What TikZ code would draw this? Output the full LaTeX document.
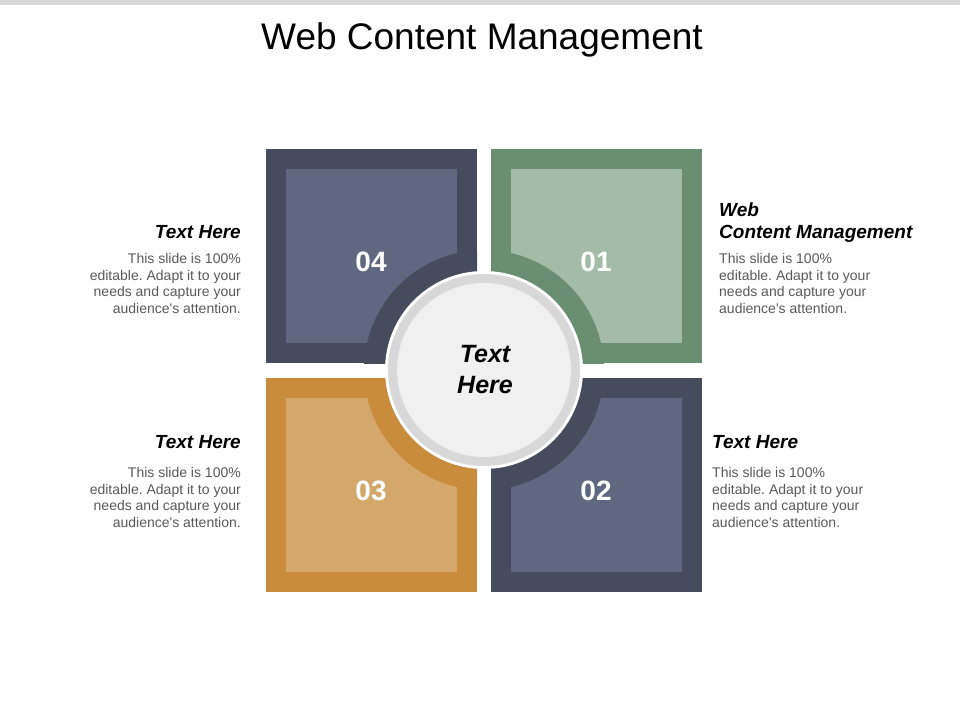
\documentclass[tikz,border=0pt]{standalone}
\usepackage{fontspec}
\setmainfont{Liberation Sans}
\frenchspacing
\usetikzlibrary{positioning}
\definecolor{slateout}{HTML}{464C5C}
\definecolor{slatein}{HTML}{5F6880}
\definecolor{greenout}{HTML}{6A8E72}
\definecolor{greenin}{HTML}{A4BBA8}
\definecolor{orangeout}{HTML}{C98B3C}
\definecolor{orangein}{HTML}{D4A86A}
\definecolor{ringgray}{HTML}{D8D8D8}
\definecolor{centerfill}{HTML}{F0F0F0}
\definecolor{bodygray}{HTML}{595959}
\tikzset{numtext/.style={inner sep=0pt, text=white, font=\fontsize{28}{28}\selectfont\bfseries}}
\tikzset{headtext/.style={inner sep=0pt, font=\fontsize{19}{22}\selectfont\bfseries\itshape}}
\tikzset{bodytext/.style={inner sep=0pt, text=bodygray, font=\fontsize{14}{16.7}\selectfont}}

\begin{document}
\begin{tikzpicture}[x=1pt, y=-1pt]
    \useasboundingbox (0,0) rectangle (960,720);
    \fill[ringgray] (0,0) rectangle (960,5);

    \node[anchor=base, inner sep=0pt, font=\fontsize{37}{37}\selectfont] (title) at (482,49) {Web Content Management};

    \coordinate (ctr) at (484,370);

    % quadrants
    \begin{scope}
        \clip (266,149) rectangle (477,363);
        \fill[slateout] (266,149) rectangle (477,363);
        \fill[slatein] (286,169) rectangle (457,343);
        \fill[slateout] (ctr) circle (120pt);
    \end{scope}
    \begin{scope}
        \clip (491,149) rectangle (702,363);
        \fill[greenout] (491,149) rectangle (702,363);
        \fill[greenin] (511,169) rectangle (682,343);
        \fill[greenout] (ctr) circle (120pt);
    \end{scope}
    \begin{scope}
        \clip (266,378) rectangle (477,592);
        \fill[orangeout] (266,378) rectangle (477,592);
        \fill[orangein] (286,398) rectangle (457,572);
        \fill[orangeout] (ctr) circle (120pt);
    \end{scope}
    \begin{scope}
        \clip (491,378) rectangle (702,592);
        \fill[slateout] (491,378) rectangle (702,592);
        \fill[slatein] (511,398) rectangle (682,572);
        \fill[slateout] (ctr) circle (120pt);
    \end{scope}

    % center circle
    \fill[white] (ctr) circle (99pt);
    \fill[ringgray] (ctr) circle (96pt);
    \fill[centerfill] (ctr) circle (87pt);
    \node[align=center, inner sep=0pt, font=\fontsize{25}{31}\selectfont\bfseries\itshape] (center) at (485,370) {Text\\Here};

    \node[numtext] (num4) at (371,262) {04};
    \node[numtext] (num1) at (596,262) {01};
    \node[numtext] (num3) at (371,491) {03};
    \node[numtext] (num2) at (596,491) {02};

    % side texts
    \node[headtext, anchor=north east] (head4) at (241,225) {Text Here};
    \node[bodytext, align=right, anchor=north east] (body4) at (241,253) {This slide is 100\%\\editable. Adapt it to your\\needs and capture your\\audience\textquotesingle s attention.};

    \node[headtext, align=left, anchor=north west] (head1) at (719,203) {Web\\Content Management};
    \node[bodytext, align=left, anchor=north west] (body1) at (719,253) {This slide is 100\%\\editable. Adapt it to your\\needs and capture your\\audience\textquotesingle s attention.};

    \node[headtext, anchor=north east] (head3) at (241,435) {Text Here};
    \node[bodytext, align=right, anchor=north east] (body3) at (241,467) {This slide is 100\%\\editable. Adapt it to your\\needs and capture your\\audience\textquotesingle s attention.};

    \node[headtext, anchor=north west] (head2) at (712,435) {Text Here};
    \node[bodytext, align=left, anchor=north west] (body2) at (712,467) {This slide is 100\%\\editable. Adapt it to your\\needs and capture your\\audience\textquotesingle s attention.};
\end{tikzpicture}
\end{document}
